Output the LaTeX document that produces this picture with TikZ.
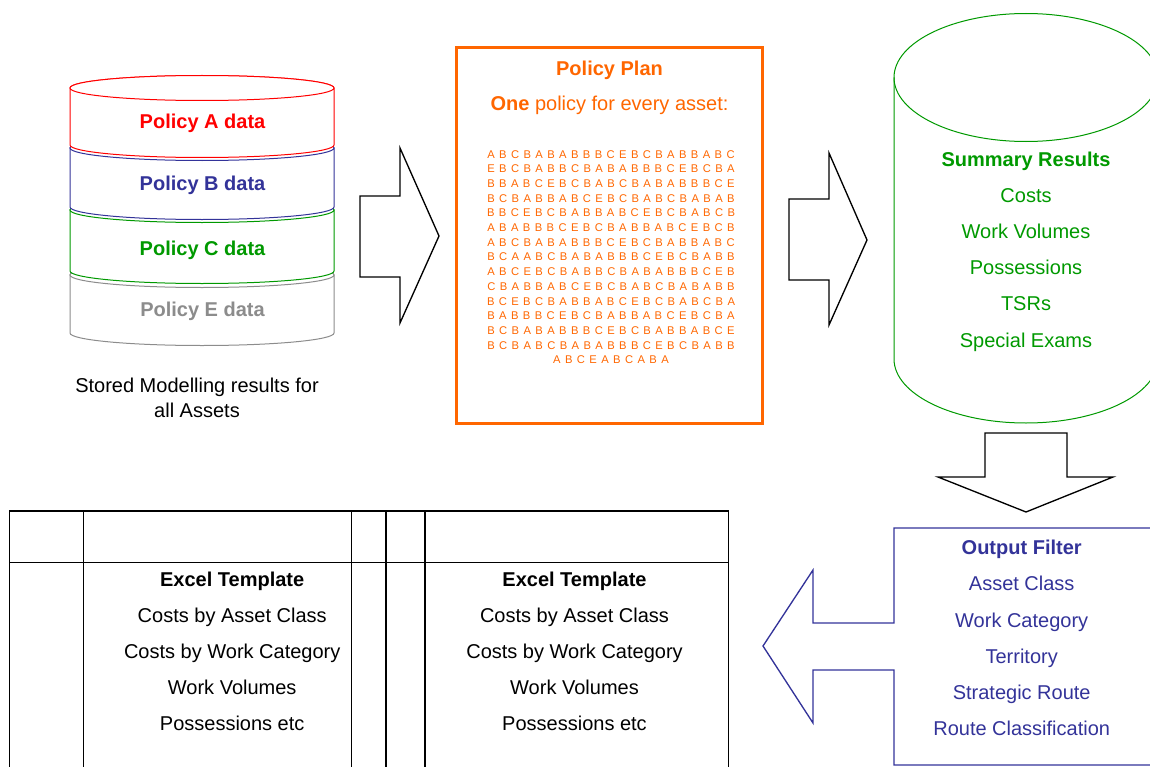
\documentclass[tikz,border=0pt]{standalone}
\usepackage{fontspec}
\setmainfont{Liberation Sans}
\definecolor{pred}{HTML}{FF0000}
\definecolor{pblue}{HTML}{333399}
\definecolor{pgreen}{HTML}{009900}
\definecolor{pgray}{HTML}{8C8C8C}
\definecolor{porange}{HTML}{FF6600}
\newcommand{\gridtext}[1]{\spaceskip=3.3pt plus 0pt minus 0pt\relax #1}
\begin{document}
\begin{tikzpicture}[x=0.75pt,y=-0.75pt,
  lbl/.style={anchor=base,inner sep=0pt,font=\fontsize{15}{18}\selectfont},
  blbl/.style={anchor=base,inner sep=0pt,font=\fontsize{15}{18}\selectfont\bfseries},
  gridrow/.style={anchor=base,inner sep=0pt,text=porange,font=\fontsize{8.4}{10}\selectfont},
  can/.style={line width=0.75pt,fill=white},
  blockarrow/.style={draw=black,line width=1pt,line join=miter,fill=white},
  tbl/.style={line width=1pt,draw=black}]
\useasboundingbox (0,0) rectangle (1150,767);

% ---------- stacked cans ----------
\foreach \yt/\yb/\col in {275/333/pgray,210/271/pgreen,148/207/pblue,88/145/pred}{
  \filldraw[can,draw=\col] (70,\yt) -- (70,\yb)
     arc[start angle=180,end angle=0,x radius=132,y radius=12.5] -- (334,\yt)
     arc[start angle=0,end angle=-180,x radius=132,y radius=12.5] -- cycle;
  \draw[can,draw=\col] (202,\yt) ellipse[x radius=132,y radius=12.5];
}
\node[blbl,text=pred]   (pa) at (202.5,128) {Policy A data};
\node[blbl,text=pblue]  (pb) at (202.5,190) {Policy B data};
\node[blbl,text=pgreen] (pc) at (202.5,255) {Policy C data};
\node[blbl,text=pgray]  (pe) at (202.5,316) {Policy E data};
\node[lbl] (cap1) at (197,392.5) {Stored Modelling results for};
\node[lbl] (cap2) at (197,417) {all Assets};

% ---------- block arrows ----------
\draw[blockarrow] (360,196) -- (400,196) -- (400,148) -- (439,236) -- (400,323) -- (400,277) -- (360,277) -- cycle;
\draw[blockarrow] (789,199) -- (829,199) -- (829,153) -- (867,240) -- (829,325) -- (829,280) -- (789,280) -- cycle;
\draw[blockarrow] (985,433) -- (1067,433) -- (1067,477) -- (1113,477) -- (1026,512) -- (938,477) -- (985,477) -- cycle;

% ---------- policy plan ----------
\draw[porange,line width=2.25pt] (456.7,48) rectangle (762.3,423);
\node[blbl,text=porange] (pp) at (609.5,75) {Policy Plan};
\node[lbl,text=porange] (one) at (609.5,111) {\textbf{One} policy for every asset:};
\node[gridrow] (row0) at (611,158.0) {\gridtext{A B C B A B A B B B C E B C B A B B A B C}};
\node[gridrow] (row1) at (611,172.7) {\gridtext{E B C B A B B C B A B A B B B C E B C B A}};
\node[gridrow] (row2) at (611,187.4) {\gridtext{B B A B C E B C B A B C B A B A B B B C E}};
\node[gridrow] (row3) at (611,202.1) {\gridtext{B C B A B B A B C E B C B A B C B A B A B}};
\node[gridrow] (row4) at (611,216.8) {\gridtext{B B C E B C B A B B A B C E B C B A B C B}};
\node[gridrow] (row5) at (611,231.5) {\gridtext{A B A B B B C E B C B A B B A B C E B C B}};
\node[gridrow] (row6) at (611,246.2) {\gridtext{A B C B A B A B B B C E B C B A B B A B C}};
\node[gridrow] (row7) at (611,260.9) {\gridtext{B C A A B C B A B A B B B C E B C B A B B}};
\node[gridrow] (row8) at (611,275.6) {\gridtext{A B C E B C B A B B C B A B A B B B C E B}};
\node[gridrow] (row9) at (611,290.3) {\gridtext{C B A B B A B C E B C B A B C B A B A B B}};
\node[gridrow] (row10) at (611,305.0) {\gridtext{B C E B C B A B B A B C E B C B A B C B A}};
\node[gridrow] (row11) at (611,319.7) {\gridtext{B A B B B C E B C B A B B A B C E B C B A}};
\node[gridrow] (row12) at (611,334.4) {\gridtext{B C B A B A B B B C E B C B A B B A B C E}};
\node[gridrow] (row13) at (611,349.1) {\gridtext{B C B A B C B A B A B B B C E B C B A B B}};
\node[gridrow] (row14) at (611,363.8) {\gridtext{A B C E A B C A B A}};

% ---------- summary cylinder ----------
\draw[pgreen,line width=0.75pt] (894,77.5) -- (894,359)
   arc[start angle=180,end angle=0,x radius=132,y radius=64] -- (1158,77.5);
\draw[pgreen,line width=0.75pt] (1026,77.5) ellipse[x radius=132,y radius=64];
\node[blbl,text=pgreen] (sr) at (1026,166.7) {Summary Results};
\node[lbl,text=pgreen] (s1) at (1026,202.7) {Costs};
\node[lbl,text=pgreen] (s2) at (1026,238.7) {Work Volumes};
\node[lbl,text=pgreen] (s3) at (1026,274.7) {Possessions};
\node[lbl,text=pgreen] (s4) at (1026,310.7) {TSRs};
\node[lbl,text=pgreen] (s5) at (1026,347.2) {Special Exams};

% ---------- output filter ----------
\draw[pblue,line width=1pt,line join=miter] (1160,528) -- (894,528) -- (894,623) -- (813,623) -- (813,570)
   -- (763,646) -- (813,723) -- (813,670) -- (894,670) -- (894,765) -- (1160,765);
\node[blbl,text=pblue] (of) at (1021.7,554.3) {Output Filter};
\node[lbl,text=pblue] (o1) at (1021.7,590.7) {Asset Class};
\node[lbl,text=pblue] (o2) at (1021.7,627.3) {Work Category};
\node[lbl,text=pblue] (o3) at (1021.7,663.3) {Territory};
\node[lbl,text=pblue] (o4) at (1021.7,699.3) {Strategic Route};
\node[lbl,text=pblue] (o5) at (1021.7,735.7) {Route Classification};

% ---------- table ----------
\draw[tbl] (9.3,775) -- (9.3,511) -- (728.3,511) -- (728.3,775);
\draw[tbl] (9.3,562.3) -- (728.3,562.3);
\foreach \x in {83.3,351.7,386,425} \draw[tbl] (\x,511) -- (\x,775);
\foreach \cx/\nm in {232.2/a,574.5/b}{
  \node[blbl] (et\nm) at (\cx,586.7) {Excel Template};
  \node[lbl] (c1\nm) at (\cx,622.3) {Costs by Asset Class};
  \node[lbl] (c2\nm) at (\cx,658.3) {Costs by Work Category};
  \node[lbl] (c3\nm) at (\cx,694.3) {Work Volumes};
  \node[lbl] (c4\nm) at (\cx,730.3) {Possessions etc};
}
\end{tikzpicture}
\end{document}
